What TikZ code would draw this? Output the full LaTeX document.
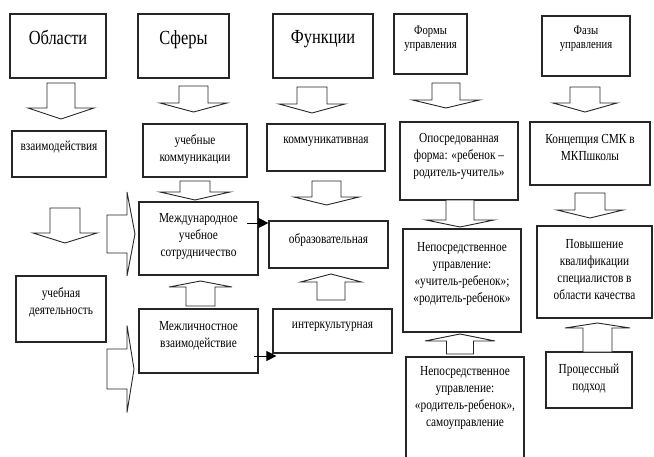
\documentclass[tikz,border=0pt]{standalone}
\usepackage{fontspec}
\setmainfont[FakeStretch=0.82]{Liberation Serif}
\usetikzlibrary{arrows.meta}
\newcommand\blkv[6]{\draw[blk] ({#1-#2},#3) -- ({#1+#2},#3) -- ({#1+#2},#4) -- ({#1+#5},#4) -- (#1,#6) -- ({#1-#5},#4) -- ({#1-#2},#4) -- cycle;}
\newcommand\blkh[6]{\draw[blk] (#3,{#1-#2}) -- (#3,{#1+#2}) -- (#4,{#1+#2}) -- (#4,{#1+#5}) -- (#6,#1) -- (#4,{#1-#5}) -- (#4,{#1-#2}) -- cycle;}
\begin{document}
\begin{tikzpicture}[x=1pt,y=-1pt,
  box/.style={draw=black!85,line width=1.2pt,inner sep=0pt},
  blk/.style={draw=black!85,line width=0.9pt,fill=white,line join=miter},
  lbl/.style={align=center,font=\fontsize{13.8}{17}\selectfont,inner sep=0pt},
  ttl/.style={align=center,font=\fontsize{20}{24}\selectfont,inner sep=0pt},
  sttl/.style={align=center,font=\fontsize{13}{13.5}\selectfont,inner sep=0pt},
  arr/.style={line width=1pt,-{Triangle[length=10pt,width=10pt]}}]
\useasboundingbox (0,0) rectangle (654,456);
% boxes
\node[box,minimum width=96pt,minimum height=64pt] (obl) at (58,46) {};
\node[box,minimum width=91pt,minimum height=64pt] (sfer) at (183.5,46) {};
\node[box,minimum width=100pt,minimum height=64pt] (func) at (323,46) {};
\node[box,minimum width=73pt,minimum height=60pt] (form) at (430.5,44) {};
\node[box,minimum width=88pt,minimum height=60pt] (faz) at (586,46) {};
\node[box,minimum width=94pt,minimum height=46pt] (vzaim) at (59,154) {};
\node[box,minimum width=104pt,minimum height=53pt] (uchk) at (195,150.5) {};
\node[box,minimum width=118pt,minimum height=47pt] (komm) at (326,147.5) {};
\node[box,minimum width=118pt,minimum height=78pt] (oposr) at (459,161) {};
\node[box,minimum width=120pt,minimum height=63pt] (konc) at (590,153.5) {};
\node[box,minimum width=119pt,minimum height=73pt] (intl) at (198.5,238.5) {};
\node[box,minimum width=90pt,minimum height=66pt] (uchd) at (61,309) {};
\node[box,minimum width=119pt,minimum height=64pt] (mezh) at (198.5,341) {};
\node[box,minimum width=119pt,minimum height=47pt] (obr) at (328.5,244.5) {};
\node[box,minimum width=119pt,minimum height=44pt] (inter) at (332.5,331) {};
\node[box,minimum width=118pt,minimum height=103pt] (nep1) at (462,280.5) {};
\node[box,minimum width=115pt,minimum height=92pt] (pov) at (594.5,272) {};
\node[box,minimum width=118pt,minimum height=108pt] (nep2) at (465,411) {};
\node[box,minimum width=86pt,minimum height=56pt] (proc) at (589,380) {};
% labels
\node[ttl] (tobl) at (58,37) {Области};
\node[ttl] (tsfer) at (183.5,40) {Сферы};
\node[ttl] (tfunc) at (323,39) {Функции};
\node[sttl] (tform) at (430.5,38.5) {Формы\\управления};
\node[sttl] (tfaz) at (586,38.5) {Фазы\\управления};
\node[lbl] (tvzaim) at (59,147) {взаимодействия};
\node[lbl] (tuchk) at (195,150) {учебные\\коммуникации};
\node[lbl] (tkomm) at (326,142) {коммуникативная};
\node[lbl] (toposr) at (459,156) {Опосредованная\\форма: «ребенок –\\родитель-учитель»};
\node[lbl] (tkonc) at (590,147) {Концепция СМК в\\МКПшколы};
\node[lbl] (tintl) at (198.5,236.7) {Международное\\учебное\\сотрудничество};
\node[lbl] (tuchd) at (61,302.5) {учебная\\деятельность};
\node[lbl] (tmezh) at (198.5,335.5) {Межличностное\\взаимодействие};
\node[lbl] (tobr) at (328.5,240) {образовательная};
\node[lbl] (tinter) at (332.5,327) {интеркультурная};
\node[lbl] (tnep1) at (462,273.5) {Непосредственное\\управление:\\«учитель-ребенок»;\\«родитель-ребенок»};
\node[lbl] (tpov) at (594.5,270) {Повышение\\квалификации\\специалистов в\\области качества};
\node[lbl] (tnep2) at (465,398) {Непосредственное\\управление:\\«родитель-ребенок»,\\самоуправление};
\node[lbl] (tproc) at (589,378.5) {Процессный\\подход};
% block arrows down
\blkv{61}{14}{83}{108}{33}{119}
\blkv{193.5}{14.5}{86}{103}{33.5}{112}
\blkv{312}{15}{87}{104}{33}{113}
\blkv{446}{14}{83}{100}{33.5}{108}
\blkv{585}{15}{87}{103}{32}{112}
\blkv{195}{15}{181}{192}{35}{200}
\blkv{65}{15}{208}{233}{32}{243}
\blkv{326.5}{14.5}{181}{197}{32.5}{205}
\blkv{460}{14}{200}{220}{34}{227}
\blkv{590}{15}{193}{210}{33}{218}
% block arrows up
\blkv{200.5}{14.5}{306}{287}{31.5}{281}
\blkv{331}{14}{300}{282}{30.5}{274}
\blkv{460}{13.5}{354}{341}{35}{334}
\blkv{597.5}{14.5}{352}{328}{32.5}{323}
% block arrows right
\blkh{234}{19}{107}{127}{42}{135}
\blkh{369}{20}{107}{127}{43.5}{134}
% thin arrows
\coordinate (a1) at (247,223);
\draw[arr] (a1) -- (a1 -| obr.west);
\coordinate (a2) at (254,356);
\draw[arr] (a2) -- ([xshift=4pt]a2 -| inter.west);
\end{tikzpicture}
\end{document}
